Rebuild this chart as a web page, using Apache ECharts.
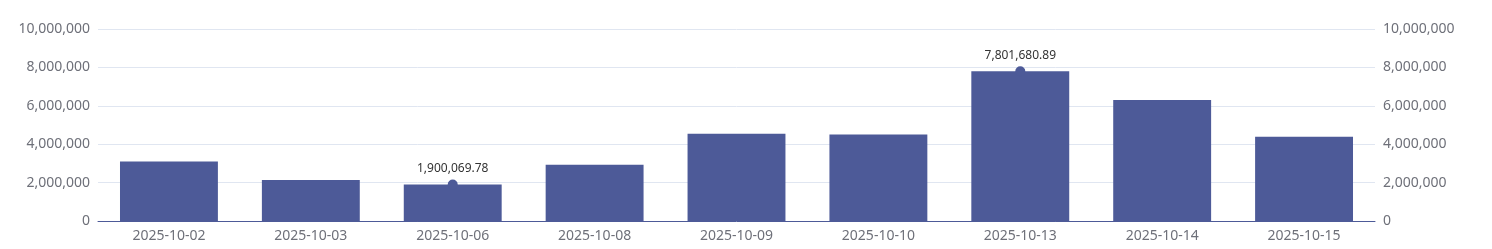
<!DOCTYPE html>
<html>
<head>
<meta charset="utf-8">
<script src="https://cdn.jsdelivr.net/npm/echarts@6/dist/echarts.min.js"></script>
<style>html,body{margin:0;padding:0;background:#fff}#c{width:1492px;height:249px}</style>
</head>
<body>
<div id="c"></div>
<script>
const categories = ['2025-10-02','2025-10-03','2025-10-06','2025-10-08','2025-10-09','2025-10-10','2025-10-13','2025-10-14','2025-10-15'];
const values = [3100000, 2140000, 1900069.78, 2930000, 4550000, 4500000, 7801680.89, 6300000, 4390000];
const yMin = 0, yMax = 10000000, yInterval = 2000000;

const fmt = v => Number(v).toLocaleString('en-US');
const fmtLabel = v => Number(v).toLocaleString('en-US', {minimumFractionDigits: 2, maximumFractionDigits: 2});
const font = '"Noto Sans", sans-serif';
const chart = echarts.init(document.getElementById('c'));
chart.setOption({
  animation: false,
  textStyle: {fontFamily: font},
  grid: {left: 98, right: 117, top: 29, bottom: 28, containLabel: false},
  xAxis: {
    type: 'category', data: categories,
    axisLine: {lineStyle: {color: '#4d5a98'}},
    axisTick: {show: false},
    axisLabel: {color: '#6e7079', fontSize: 14, margin: 8, fontFamily: font}
  },
  yAxis: [
    {type: 'value', min: yMin, max: yMax, interval: yInterval, position: 'left',
     axisLabel: {color: '#6e7079', fontSize: 14, margin: 8, formatter: fmt, fontFamily: font},
     splitLine: {lineStyle: {color: '#e0e6f1'}}, axisLine: {show: false}, axisTick: {show: false}},
    {type: 'value', min: yMin, max: yMax, interval: yInterval, position: 'right',
     axisLabel: {color: '#6e7079', fontSize: 14, margin: 8, formatter: fmt, fontFamily: font},
     splitLine: {show: false}, axisLine: {show: false}, axisTick: {show: false}}
  ],
  series: [{
    type: 'bar', data: values, barWidth: '69%',
    itemStyle: {color: '#4d5a98'},
    markPoint: {
      symbol: 'circle', symbolSize: 10,
      itemStyle: {color: '#4d5a98'},
      label: {show: true, position: 'top', distance: 5, color: '#333', fontSize: 12, fontFamily: font,
              formatter: p => fmtLabel(p.value)},
      data: [{type: 'max'}, {type: 'min'}]
    }
  }]
});
</script>
</body>
</html>
